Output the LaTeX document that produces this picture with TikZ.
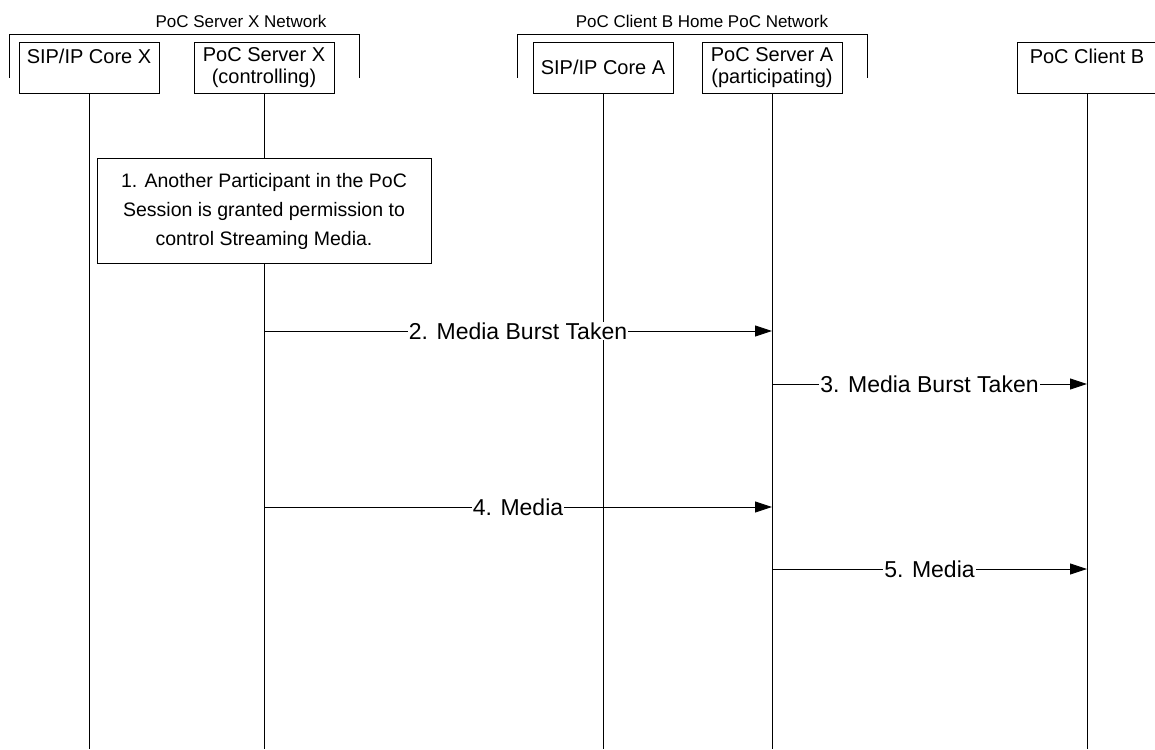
\documentclass[tikz,border=0pt]{standalone}
\usepackage{fontspec}
\setmainfont{Liberation Sans}
\usetikzlibrary{positioning, arrows.meta}

\begin{document}
\begin{tikzpicture}[x=1pt, y=-1pt, line width=0.9pt,
    entity/.style={draw, fill=white, minimum width=140pt, minimum height=51pt,
      align=center, inner sep=1pt, font=\fontsize{20}{22}\selectfont},
    nettitle/.style={font=\fontsize{17}{20}\selectfont},
    msg/.style={-{Triangle[length=17pt,width=11pt]}},
    msglabel/.style={fill=white, inner sep=1pt, font=\fontsize{23}{26}\selectfont}]
  \useasboundingbox (0,0) rectangle (1155,749);
  \coordinate (bottom) at (0,749);

  % network brackets
  \draw (9,78) -- (9,34) -- (359,34) -- (359,78);
  \node[nettitle] (netX) at (241,21) {PoC Server X Network};
  \draw (517,78) -- (517,34) -- (867,34) -- (867,78);
  \node[nettitle] (netA) at (702,21) {PoC Client B Home PoC Network};

  % entities
  \node[entity] (sipx) at (89,67.5) {SIP/IP Core X\\\mbox{}};
  \node[entity] (srvx) at (264,67.5) {PoC Server X\\(controlling)};
  \node[entity] (sipa) at (603,67.5) {SIP/IP Core A};
  \node[entity] (srva) at (772,67.5) {PoC Server A\\(participating)};
  \node[entity] (clib) at (1087,67.5) {PoC Client B\\\mbox{}};

  % lifelines
  \foreach \n in {sipx, srvx, sipa, srva, clib}
    \draw (\n.south) -- (\n.south |- bottom);

  \node[draw, fill=white, minimum width=334pt, minimum height=105pt, align=center,
    font=\fontsize{19.5}{29}\selectfont] (note1) at (264,211)
    {1. Another Participant in the PoC\\Session is granted permission to\\control Streaming Media.};

  % messages
  \draw[msg] (srvx |- 0,331) -- node[msglabel] {2. Media Burst Taken} (srva |- 0,331);
  \draw[msg] (srva |- 0,384) -- node[msglabel] {3. Media Burst Taken} (clib |- 0,384);
  \draw[msg] (srvx |- 0,507) -- node[msglabel] {4. Media} (srva |- 0,507);
  \draw[msg] (srva |- 0,569) -- node[msglabel] {5. Media} (clib |- 0,569);
\end{tikzpicture}
\end{document}
